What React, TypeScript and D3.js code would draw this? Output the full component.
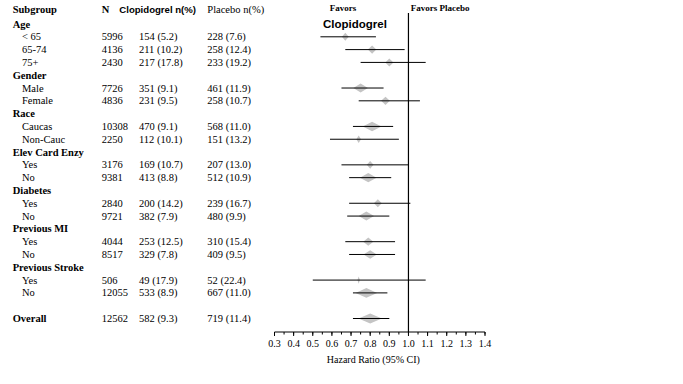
import * as d3 from "d3";

const labels = [
  "Age", "< 65", "65-74", "75+",
  "Gender", "Male", "Female",
  "Race", "Caucas", "Non-Cauc",
  "Elev Card Enzy", "Yes", "No",
  "Diabetes", "Yes", "No",
  "Previous MI", "Yes", "No",
  "Previous Stroke", "Yes", "No",
  "", "Overall",
];
const groupRows = [0, 4, 7, 10, 13, 16, 19, 23];

const nValues = [null, 5996, 4136, 2430, null, 7726, 4836, null, 10308, 2250, null, 3176, 9381, null, 2840, 9721, null, 4044, 8517, null, 506, 12055, null, 12562];
const clopEvents = [null, 154, 211, 217, null, 351, 231, null, 470, 112, null, 169, 413, null, 200, 382, null, 253, 329, null, 49, 533, null, 582];
const clopPct = [null, 5.2, 10.2, 17.8, null, 9.1, 9.5, null, 9.1, 10.1, null, 10.7, 8.8, null, 14.2, 7.9, null, 12.5, 7.8, null, 17.9, 8.9, null, 9.3];
const placEvents = [null, 228, 258, 233, null, 461, 258, null, 568, 151, null, 207, 512, null, 239, 480, null, 310, 409, null, 52, 667, null, 719];
const placPct = [null, 7.6, 12.4, 19.2, null, 11.9, 10.7, null, 11.0, 13.2, null, 13.0, 10.9, null, 16.7, 9.9, null, 15.4, 9.5, null, 22.4, 11.0, null, 11.4];

const hazard = [null, 0.67, 0.81, 0.90, null, 0.75, 0.88, null, 0.81, 0.74, null, 0.80, 0.79, null, 0.84, 0.78, null, 0.79, 0.80, null, 0.74, 0.78, null, 0.80];
const lower = [null, 0.54, 0.67, 0.75, null, 0.65, 0.74, null, 0.71, 0.59, null, 0.65, 0.69, null, 0.69, 0.68, null, 0.67, 0.69, null, 0.50, 0.71, null, 0.71];
const upper = [null, 0.83, 0.98, 1.09, null, 0.87, 1.06, null, 0.92, 0.95, null, 1.00, 0.91, null, 1.01, 0.90, null, 0.93, 0.93, null, 1.09, 0.89, null, 0.90];

const serif = "'Liberation Serif', 'Times New Roman', serif";
const sans = "'Liberation Sans', Arial, sans-serif";

export default function App() {
  const width = 683;
  const height = 384;

  const xScale = d3.scaleLinear().domain([0.3, 1.4]).range([274.5, 485]);
  const yScale = d3.scaleLinear().domain([0, 23]).range([24, 318.5]);

  // diamond size follows total events in each subgroup
  const events = labels.map((_, i) =>
    clopEvents[i] == null ? 0 : (clopEvents[i] as number) + (placEvents[i] as number)
  );
  const maxEvents = d3.max(events) ?? 1;
  const widthScale = d3.scaleLinear().domain([0, maxEvents]).range([0, 11.7]);
  const heightScale = d3.scaleLinear().domain([0, maxEvents]).range([3.5, 5]);

  const axisY = 332;
  const majorTicks = xScale.ticks(11);
  const minorTicks = xScale.ticks(22);
  const fmt = d3.format(".1f");

  const colN = 101.7;
  const colClop = 139;
  const colPlac = 207.3;

  return (
    <svg
      width={width}
      height={height}
      style={{ position: "absolute", left: 0, top: 0, background: "#fff" }}
    >
      {/* table header */}
      <g fontFamily={serif} fontSize={10.5} fill="#000" dominantBaseline="central">
        <text x={12.7} y={9.5} fontWeight="bold">Subgroup</text>
        <text x={colN} y={9.5} fontWeight="bold">N</text>
        <text x={119.3} y={9} fontFamily={sans} fontWeight="bold" fontSize={9.6}>Clopidogrel n(%)</text>
        <text x={colPlac} y={9.5}>Placebo n(%)</text>
      </g>

      {/* table rows */}
      <g fontFamily={serif} fontSize={10.5} fill="#000" dominantBaseline="central">
        {labels.map((label, i) => {
          const y = yScale(i);
          const isGroup = groupRows.includes(i);
          return (
            <g key={`row-${i}`}>
              <text x={isGroup ? 12.7 : 22} y={y} fontWeight={isGroup ? "bold" : "normal"}>
                {label}
              </text>
              {nValues[i] != null && (
                <>
                  <text x={colN} y={y}>{nValues[i]}</text>
                  <text x={colClop} y={y}>{`${clopEvents[i]} (${fmt(clopPct[i] as number)})`}</text>
                  <text x={colPlac} y={y}>{`${placEvents[i]} (${fmt(placPct[i] as number)})`}</text>
                </>
              )}
            </g>
          );
        })}
      </g>

      {/* favors labels */}
      <text x={343} y={8} textAnchor="middle" fontFamily={serif} fontWeight="bold" fontSize={9} dominantBaseline="central">
        Favors
      </text>
      <text x={355} y={24} textAnchor="middle" fontFamily={sans} fontWeight="bold" fontSize={11.5} dominantBaseline="central">
        Clopidogrel
      </text>
      <text x={410.7} y={8} fontFamily={serif} fontWeight="bold" fontSize={9} dominantBaseline="central">
        Favors Placebo
      </text>

      {/* diamonds and CI lines */}
      {hazard.map((hr, i) => {
        if (hr == null) return null;
        const cx = xScale(hr);
        const cy = yScale(i);
        const hw = Math.max(1.2, widthScale(events[i]));
        const hh = heightScale(events[i]);
        const d = `M${cx - hw},${cy}L${cx},${cy - hh}L${cx + hw},${cy}L${cx},${cy + hh}Z`;
        return (
          <g key={`ci-${i}`}>
            <path d={d} fill="#c4c4c4" />
            <line
              x1={xScale(lower[i] as number)}
              x2={xScale(upper[i] as number)}
              y1={cy}
              y2={cy}
              stroke="#000"
              strokeWidth={1}
            />
          </g>
        );
      })}

      {/* reference line */}
      <line x1={xScale(1)} x2={xScale(1)} y1={13} y2={axisY} stroke="#000" strokeWidth={1.2} />

      {/* x axis */}
      <line x1={xScale(0.3)} x2={xScale(1.4)} y1={axisY} y2={axisY} stroke="#000" strokeWidth={1} />
      {minorTicks.map((t) => (
        <line key={`mn-${t}`} x1={xScale(t)} x2={xScale(t)} y1={axisY} y2={axisY + 2.5} stroke="#000" strokeWidth={1} />
      ))}
      {majorTicks.map((t) => (
        <g key={`mj-${t}`}>
          <line x1={xScale(t)} x2={xScale(t)} y1={axisY} y2={axisY + 4} stroke="#000" strokeWidth={1} />
          <text
            x={xScale(t)}
            y={343.5}
            textAnchor="middle"
            dominantBaseline="central"
            fontFamily={serif}
            fontSize={10}
          >
            {fmt(t)}
          </text>
        </g>
      ))}
      <text
        x={373.3}
        y={359}
        textAnchor="middle"
        dominantBaseline="central"
        fontFamily={serif}
        fontSize={10}
      >
        Hazard Ratio (95% CI)
      </text>
    </svg>
  );
}
